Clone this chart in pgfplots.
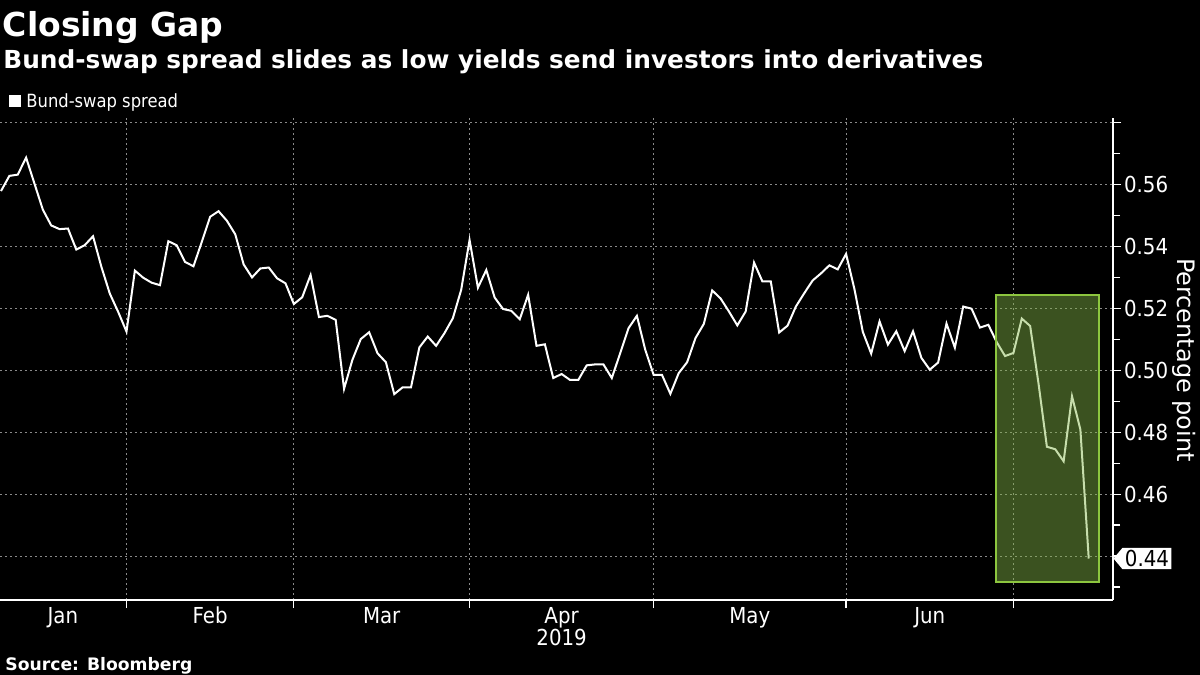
\documentclass[border=0pt]{standalone}
\usepackage{fontspec}
\setmainfont{DejaVu Sans Condensed}
\newfontfamily\wide{DejaVu Sans}
\usepackage{pgfplots}
\pgfplotsset{compat=1.18}
\usetikzlibrary{shapes.symbols}
\definecolor{boxfill}{HTML}{83B647}
\definecolor{boxedge}{HTML}{8DC63F}
\definecolor{gridgray}{HTML}{8A8A8A}
\pgfplotstableread{
i v
0 0.5579
1 0.5628
2 0.5632
3 0.5687
4 0.5603
5 0.5519
6 0.5468
7 0.5456
8 0.5458
9 0.5390
10 0.5404
11 0.5433
12 0.5334
13 0.5248
14 0.5189
15 0.5125
16 0.5322
17 0.5299
18 0.5283
19 0.5275
20 0.5417
21 0.5404
22 0.5350
23 0.5336
24 0.5415
25 0.5496
26 0.5514
27 0.5483
28 0.5439
29 0.5342
30 0.5300
31 0.5329
32 0.5332
33 0.5297
34 0.5281
35 0.5214
36 0.5236
37 0.5308
38 0.5172
39 0.5176
40 0.5163
41 0.4940
42 0.5034
43 0.5101
44 0.5123
45 0.5055
46 0.5026
47 0.4923
48 0.4945
49 0.4945
50 0.5074
51 0.5109
52 0.5079
53 0.5120
54 0.5168
55 0.5260
56 0.5421
57 0.5267
58 0.5324
59 0.5235
60 0.5198
61 0.5192
62 0.5165
63 0.5244
64 0.5079
65 0.5084
66 0.4975
67 0.4988
68 0.4969
69 0.4969
70 0.5016
71 0.5019
72 0.5019
73 0.4975
74 0.5055
75 0.5136
76 0.5176
77 0.5066
78 0.4985
79 0.4985
80 0.4924
81 0.4991
82 0.5026
83 0.5104
84 0.5150
85 0.5258
86 0.5232
87 0.5190
88 0.5145
89 0.5190
90 0.5348
91 0.5287
92 0.5287
93 0.5122
94 0.5144
95 0.5206
96 0.5249
97 0.5290
98 0.5313
99 0.5339
100 0.5326
101 0.5376
102 0.5262
103 0.5124
104 0.5054
105 0.5158
106 0.5083
107 0.5126
108 0.5062
109 0.5126
110 0.5040
111 0.5002
112 0.5025
113 0.5151
114 0.5073
115 0.5206
116 0.5199
117 0.5138
118 0.5147
119 0.5091
120 0.5046
121 0.5056
122 0.5167
123 0.5143
124 0.4957
125 0.4753
126 0.4745
127 0.4706
128 0.4916
129 0.4809
130 0.4392
}\spread
\begin{document}
\begin{tikzpicture}[x=1pt,y=1pt]
\fill[black] (0,0) rectangle (600,337.5);
\node[anchor=base west, inner sep=0, white, font=\wide\bfseries\fontsize{16.5}{20}\selectfont] at (1.2,319) {Closing Gap};
\node[anchor=base west, inner sep=0, white, font=\wide\bfseries\fontsize{12.4}{15}\selectfont] at (1.5,303.3) {Bund-swap spread slides as low yields send investors into derivatives};
\fill[white] (4.5,284) rectangle (10.5,290);
\node[anchor=base west, inner sep=0, white, font=\fontsize{9.1}{10}\selectfont] at (13,283.8) {Bund-swap spread};
\node[anchor=base west, inner sep=0, white, font=\wide\bfseries\fontsize{8.6}{10}\selectfont] at (2.5,2.2) {Source: Bloomberg};
\node[rotate=-90, white, inner sep=0, font=\wide\fontsize{12}{14}\selectfont] at (592,157.5) {Percentage point};
\begin{axis}[
  at={(0pt,37.5pt)}, anchor=south west,
  scale only axis, width=556.5pt, height=241pt,
  xmin=-0.12, xmax=132.9, ymin=0.4258, ymax=0.5815,
  axis x line=bottom, axis y line=right,
  axis line style={white, line width=0.8pt, -},
  xtick={15,35,56,78,101,121}, xticklabels={},
  extra x ticks={7.4,25,45.5,67,89.5,111},
  extra x tick labels={Jan,Feb,Mar,{Apr\\2019},May,Jun},
  extra x tick style={major tick length=0pt, grid=none},
  xticklabel style={align=center, white, font=\fontsize{11}{11}\selectfont},
  ytick={0.44,0.46,0.48,0.50,0.52,0.54,0.56,0.58},
  yticklabels={,0.46,0.48,0.50,0.52,0.54,0.56,},
  minor ytick={0.43,0.45,0.47,0.49,0.51,0.53,0.55,0.57},
  yticklabel style={white, xshift=-2pt, font=\fontsize{11}{12}\selectfont},
  grid=major,
  major grid style={gridgray, dash pattern=on 1pt off 1.5pt, line width=0.5pt},
  tick style={white, line width=0.6pt},
  major tick length=4pt, minor tick length=3.5pt, tick align=outside,
  clip=false,
]
\addplot[white, line width=1pt] table[x=i, y=v] {\spread};
\addplot[draw=boxedge, line width=1pt, fill=boxfill, fill opacity=0.45] coordinates {(118.9,0.4316) (131.2,0.4316) (131.2,0.5244) (118.9,0.5244)} -- cycle;
\node[signal, signal to=west, signal pointer angle=100, fill=white, text=black, inner sep=1.2pt, anchor=west, font=\fontsize{11}{12}\selectfont] at (axis cs:132.9,0.4392) {0.44};
\end{axis}
\pgfresetboundingbox
\path[use as bounding box] (0,0) rectangle (600,337.5);
\end{tikzpicture}
\end{document}
